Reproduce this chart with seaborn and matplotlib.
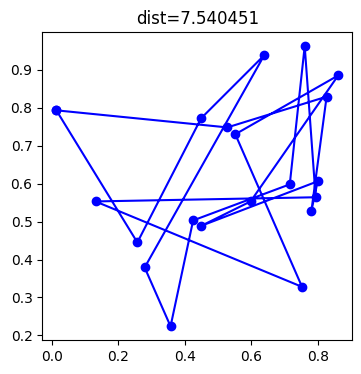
import matplotlib
matplotlib.use("Agg")
import matplotlib.pyplot as plt
import seaborn as sns
import pandas as pd

# Tour points in visiting order (closed tour)
xs = [0.013, 0.528, 0.827, 0.781, 0.800, 0.450, 0.598, 0.862, 0.552, 0.753,
      0.131, 0.794, 0.761, 0.716, 0.425, 0.357, 0.279, 0.639, 0.449, 0.257]
ys = [0.793, 0.748, 0.829, 0.527, 0.606, 0.489, 0.553, 0.885, 0.730, 0.328,
      0.553, 0.564, 0.962, 0.598, 0.503, 0.224, 0.379, 0.938, 0.772, 0.445]
title = "dist=7.540451"

df = pd.DataFrame({"x": xs + xs[:1], "y": ys + ys[:1]})
df["step"] = range(len(df))

fig = plt.figure(figsize=(3.61, 3.74), dpi=100)
ax = fig.add_axes([0.117, 0.090, 0.859, 0.824])
sns.lineplot(data=df, x="x", y="y", sort=False, estimator=None, ax=ax,
             color="blue", marker="o", markersize=6, linewidth=1.5,
             markeredgecolor="blue", markeredgewidth=1.0)
ax.set_xlabel("")
ax.set_ylabel("")
ax.set_title(title, fontsize=12)
fig.savefig("out.png", dpi=100)
